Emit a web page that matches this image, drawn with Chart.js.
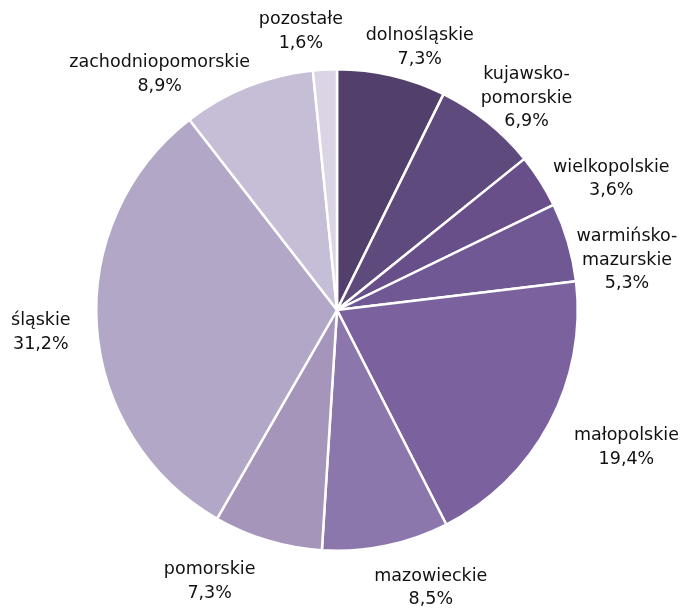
<!DOCTYPE html>
<html lang="pl">
<head>
<meta charset="utf-8">
<title>Struktura według województw</title>
<script src="https://cdn.jsdelivr.net/npm/chart.js@4/dist/chart.umd.min.js"></script>
<style>
  html, body { margin: 0; padding: 0; background: #fff; }
  #wrap { width: 686px; height: 611px; }
</style>
</head>
<body>
<div id="wrap"><canvas id="wojewodztwa" width="686" height="611"></canvas></div>
<script>
// udział województw (%)
const wojewodztwa = ['dolnośląskie', 'kujawsko-pomorskie', 'wielkopolskie', 'warmińsko-mazurskie', 'małopolskie',
    'mazowieckie', 'pomorskie', 'śląskie', 'zachodniopomorskie', 'pozostałe'];
const udzial = [7.3, 6.9, 3.6, 5.3, 19.4, 8.5, 7.3, 31.2, 8.9, 1.6];

// jak łamać nazwy w etykietach
const etykiety = [['dolnośląskie'], ['kujawsko-', 'pomorskie'], ['wielkopolskie'], ['warmińsko-', 'mazurskie'], ['małopolskie'],
    ['mazowieckie'], ['pomorskie'], ['śląskie'], ['zachodniopomorskie'], ['pozostałe']];

const kolory = ['#523f6c', '#5e4a7d', '#684f8a', '#6f5894', '#7b619e', '#8c77ad', '#a595ba', '#b2a7c6', '#c6bdd6', '#dad4e4'];

// przesunięcie środka etykiety względem środka łuku na krawędzi
const przesuniecie = [[28, -28], [39, -24], [71, -2], [59, 18], [77, 24], [45, 42], [-58, 41], [-56, 6], [-88, -12], [-24, -38]];

const fmt = v => v.toFixed(1).replace('.', ',') + '%';

const etykietyZewn = {
    id: 'etykietyZewn',
    afterDatasetsDraw(chart) {
        const ctx = chart.ctx;
        const meta = chart.getDatasetMeta(0);
        ctx.save();
        ctx.font = '17.5px "DejaVu Sans", sans-serif';
        ctx.fillStyle = '#111111';
        ctx.textAlign = 'center';
        ctx.textBaseline = 'middle';
        const lh = 23.5;
        meta.data.forEach((arc, i) => {
            const p = arc.getProps(['x', 'y', 'startAngle', 'endAngle', 'outerRadius'], true);
            const mid = (p.startAngle + p.endAngle) / 2;
            const ex = p.x + Math.cos(mid) * p.outerRadius;
            const ey = p.y + Math.sin(mid) * p.outerRadius;
            const lines = etykiety[i].concat([fmt(udzial[i])]);
            const cx = ex + przesuniecie[i][0];
            const cy = ey + przesuniecie[i][1];
            const top = cy - (lines.length - 1) * lh / 2;
            lines.forEach((t, k) => ctx.fillText(t, cx, top + k * lh));
        });
        ctx.restore();
    }
};

new Chart(document.getElementById('wojewodztwa'), {
    type: 'pie',
    data: {
        labels: wojewodztwa,
        datasets: [{
            data: udzial,
            backgroundColor: kolory,
            borderColor: '#ffffff',
            borderWidth: 2.5
        }]
    },
    options: {
        responsive: false,
        animation: false,
        layout: { padding: { left: 95, right: 107, top: 68, bottom: 59 } },
        plugins: {
            legend: { display: false },
            tooltip: { enabled: false }
        }
    },
    plugins: [etykietyZewn]
});
</script>
</body>
</html>
